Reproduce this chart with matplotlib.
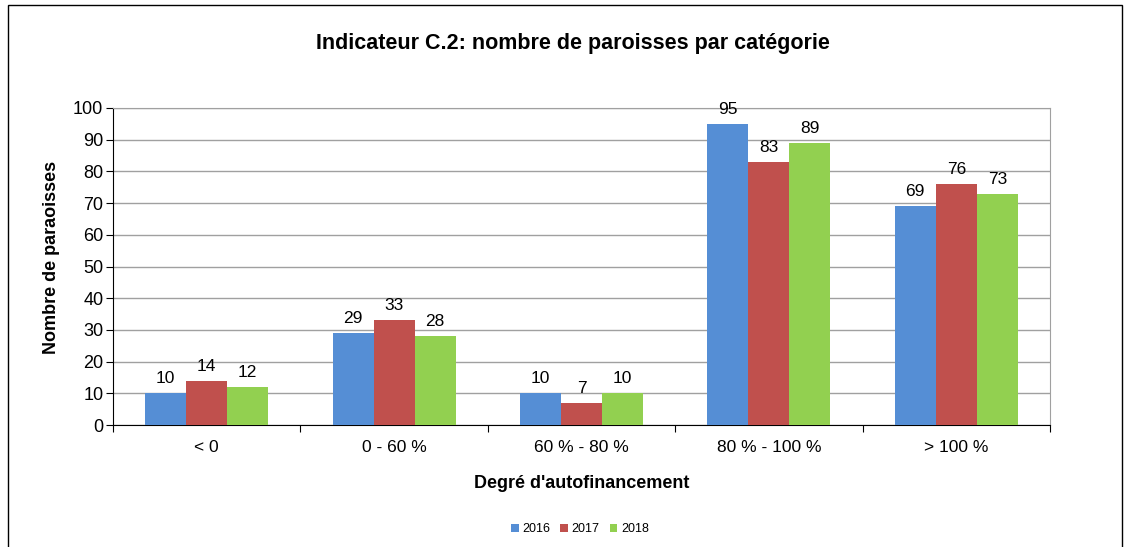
import numpy as np
import matplotlib.pyplot as plt
from matplotlib.patches import Rectangle

plt.rcParams['font.family'] = ['Liberation Sans', 'DejaVu Sans']

# Data
categories = ['< 0', '0 - 60 %', '60 % - 80 %', '80 % - 100 %', '> 100 %']
years = ['2016', '2017', '2018']
v2016 = [10, 29, 10, 95, 69]
v2017 = [14, 33, 7, 83, 76]
v2018 = [12, 28, 10, 89, 73]
colors = ['#558ED5', '#C0504D', '#92D050']

fig = plt.figure(figsize=(11.31, 5.47), dpi=100)
ax = fig.add_axes([113 / 1131, 1 - 425 / 547, (1050 - 113) / 1131, (425 - 108) / 547])

x = np.arange(len(categories))
w = 0.219
for i, (vals, yr) in enumerate(zip([v2016, v2017, v2018], years)):
    bars = ax.bar(x + (i - 1) * w, vals, w, color=colors[i], label=yr, zorder=3)
    for b, v in zip(bars, vals):
        ax.annotate(str(v), (b.get_x() + b.get_width() / 2, v), xytext=(0, 5),
                    textcoords='offset points', ha='center', va='bottom',
                    fontsize=12.5, zorder=4)

ax.set_xlim(-0.5, len(categories) - 0.5)
ax.set_ylim(0, 100)
ax.set_yticks(range(0, 101, 10))
ax.grid(axis='y', color='#A0A0A0', linewidth=1, zorder=0)

# category ticks at boundaries
ax.set_xticks(np.arange(-0.5, len(categories)), minor=False)
ax.set_xticklabels([])
ax.set_xticks(x, minor=True)
ax.set_xticklabels(categories, minor=True, fontsize=12.5)
ax.tick_params(axis='x', which='minor', length=0, pad=11)
ax.tick_params(axis='x', which='major', length=5, direction='out', color='black')
ax.tick_params(axis='y', length=5, direction='out', labelsize=13, pad=2)

for s in ['left', 'bottom']:
    ax.spines[s].set_color('black')
for s in ['top', 'right']:
    ax.spines[s].set_color('#A0A0A0')

ax.set_ylabel('Nombre de paraoisses', fontsize=13, fontweight='bold')
ax.yaxis.set_label_coords(-0.057, 0.53)
ax.set_xlabel("Degré d'autofinancement", fontsize=13, fontweight='bold', labelpad=14)

fig.text(573 / 1131, 1 - 43 / 547, 'Indicateur C.2: nombre de paroisses par catégorie',
         ha='center', va='center', fontsize=15.5, fontweight='bold')

fig.legend(loc='center', bbox_to_anchor=(580 / 1131, 1 - 529 / 547), ncol=3, frameon=False,
           fontsize=9, handlelength=0.6, handleheight=0.6, handletextpad=0.3, columnspacing=0.8)

# outer chart border
fig.patches.append(Rectangle((8 / 1131, -0.05), (1122 - 8) / 1131, 1.05 - 5 / 547,
                             transform=fig.transFigure, fill=False, edgecolor='black',
                             linewidth=1))

fig.savefig('out.png', dpi=100)
